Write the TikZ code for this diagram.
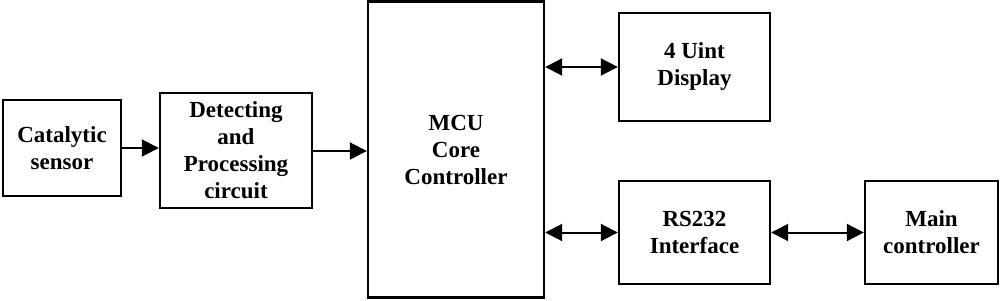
\documentclass[tikz,border=0pt]{standalone}
\usepackage{fontspec}
\setmainfont{Liberation Serif}
\usetikzlibrary{arrows.meta}
\begin{document}
\begin{tikzpicture}[x=1pt,y=-1pt,
  blockbox/.style={draw, line width=2.4pt, inner sep=0pt, align=center,
    font=\fontsize{23}{27}\selectfont\bfseries},
  conn/.style={line width=2pt, -{Triangle[length=17pt,width=17pt]}},
  biconn/.style={line width=2pt, {Triangle[length=17pt,width=17pt]}-{Triangle[length=17pt,width=17pt]}}]
\useasboundingbox (0,0) rectangle (1000,300);
\node[blockbox, minimum width=118pt, minimum height=96pt] (sens) at (62,148) {Catalytic\\sensor};
\node[blockbox, minimum width=152pt, minimum height=115pt] (det) at (236,150.5) {Detecting\\and\\Processing\\circuit};
\node[blockbox, minimum width=176pt, minimum height=296pt] (mcu) at (456,149.5) {MCU\\Core\\Controller};
\node[blockbox, minimum width=151pt, minimum height=108pt] (disp) at (694.5,67) {4 Uint\\Display};
\node[blockbox, minimum width=151pt, minimum height=103pt] (rs) at (694.5,232.5) {RS232\\Interface};
\node[blockbox, minimum width=133pt, minimum height=103pt] (main) at (931.5,232.5) {Main\\controller};
\draw[conn] (sens.east) -- (sens.east -| det.west);
\draw[conn] ([yshift=-0.5pt]det.east) -- ([yshift=-0.5pt]det.east -| mcu.west);
\draw[biconn] (mcu.east |- disp.west) -- (disp.west);
\draw[biconn] (mcu.east |- rs.west) -- (rs.west);
\draw[biconn] (rs.east) -- (main.west);
\end{tikzpicture}
\end{document}
